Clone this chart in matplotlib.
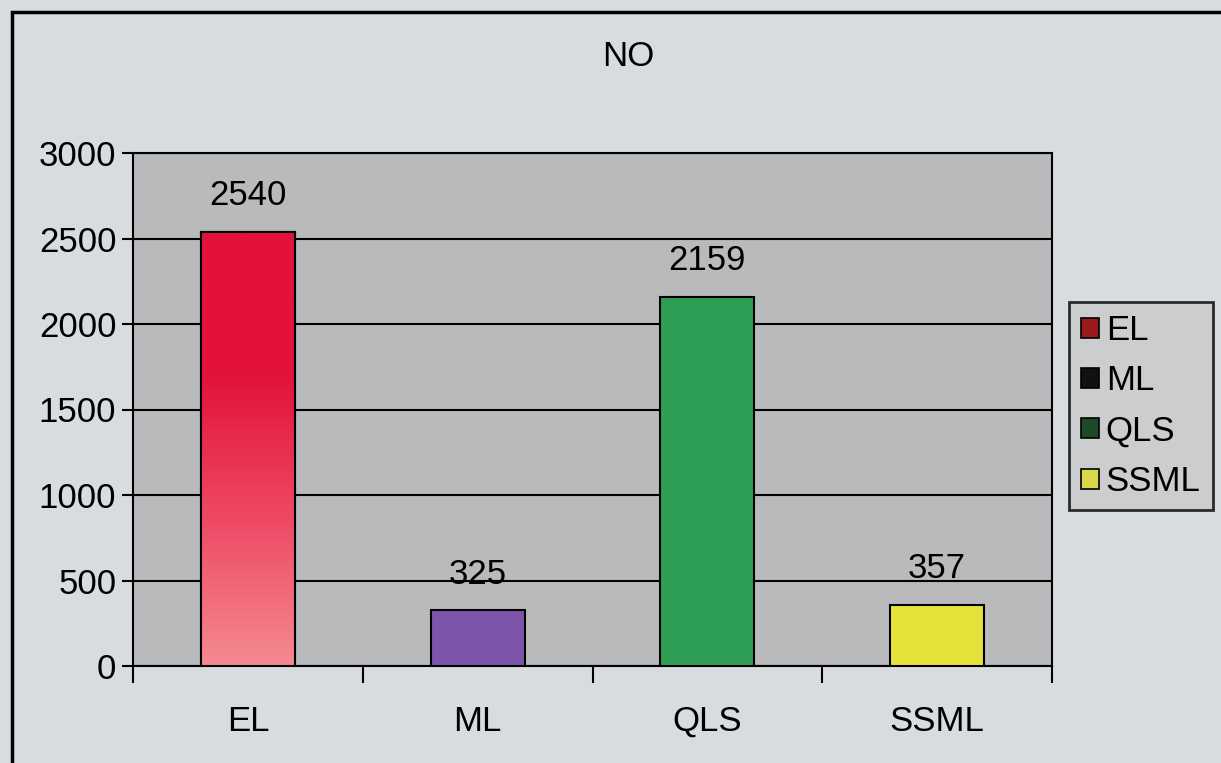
import matplotlib.pyplot as plt
import numpy as np
from matplotlib.patches import Rectangle
from matplotlib.colors import LinearSegmentedColormap

categories = ["EL", "ML", "QLS", "SSML"]
values = [2540, 325, 2159, 357]
bar_colors = ["#e3123c", "#7c55aa", "#2e9e55", "#e6e23c"]
legend_colors = ["#9a1a1a", "#111111", "#1f4a2a", "#d8d84a"]
title = "NO"

plt.rcParams["font.family"] = ["Liberation Sans", "DejaVu Sans"]
FS = 25

fig = plt.figure(figsize=(12.21, 7.63), dpi=100)
fig.patch.set_facecolor("#d9dcdf")

# outer chart frame
fig.patches.append(Rectangle((12 / 1221, -0.02), 1.05, 0.02 + 1 - 12 / 763,
                             transform=fig.transFigure, fill=False,
                             edgecolor="black", linewidth=2.5))

ax = fig.add_axes([133 / 1221, 1 - 666 / 763, (1052 - 133) / 1221, (666 - 153) / 763])
ax.set_facecolor("#b9babc")

x = np.arange(len(categories))
bars = ax.bar(x, values, width=0.41, color=bar_colors, edgecolor="black",
              linewidth=1.5, zorder=3)

# EL bar fades from red at the top to pink at the bottom
grad = LinearSegmentedColormap.from_list("el", ["#f48a92", "#ee4a66", "#e3123c", "#e3123c"])
b0 = bars[0]
img = ax.imshow(np.linspace(0, 1, 256).reshape(-1, 1), cmap=grad, aspect="auto",
                origin="lower", extent=(b0.get_x(), b0.get_x() + b0.get_width(), 0, values[0]),
                zorder=3.5)
img.set_clip_path(b0)
ax.add_patch(Rectangle((b0.get_x(), 0), b0.get_width(), values[0], fill=False,
                       edgecolor="black", linewidth=1.5, zorder=4))

for xi, v in zip(x, values):
    ax.annotate(str(v), xy=(xi, v), xytext=(0, 26), textcoords="offset points",
                ha="center", va="center", fontsize=FS)

ax.set_xlim(-0.5, len(categories) - 0.5)
ax.set_ylim(0, 3000)
ax.set_yticks(np.arange(0, 3001, 500))
ax.tick_params(axis="y", labelsize=FS, length=8, width=1.5, pad=4)
ax.set_xticks(x)
ax.set_xticklabels(categories, fontsize=FS)
ax.tick_params(axis="x", length=0, pad=28)
ax.set_xticks(np.arange(len(categories) + 1) - 0.5, minor=True)
ax.tick_params(axis="x", which="minor", length=12, width=1.5)
ax.grid(axis="y", color="black", linewidth=1.5, zorder=1)
ax.set_axisbelow(True)
for s in ax.spines.values():
    s.set_linewidth(1.5)

fig.text(628 / 1221, 1 - 57 / 763, title, ha="center", va="center", fontsize=FS)

handles = [Rectangle((0, 0), 1, 1, facecolor=c, edgecolor="black", linewidth=1.2)
           for c in legend_colors]
leg = fig.legend(handles, categories, loc="center", bbox_to_anchor=(1141 / 1221, 1 - 406 / 763),
                 fontsize=FS, frameon=True, fancybox=False, handlelength=0.5,
                 handleheight=0.5, handletextpad=0.2, labelspacing=0.5, borderpad=0.35,
                 borderaxespad=0)
leg.get_frame().set_edgecolor("black")
leg.get_frame().set_linewidth(2)
leg.get_frame().set_facecolor("#c8cacc")

fig.savefig("out.png", dpi=100, facecolor=fig.get_facecolor())
